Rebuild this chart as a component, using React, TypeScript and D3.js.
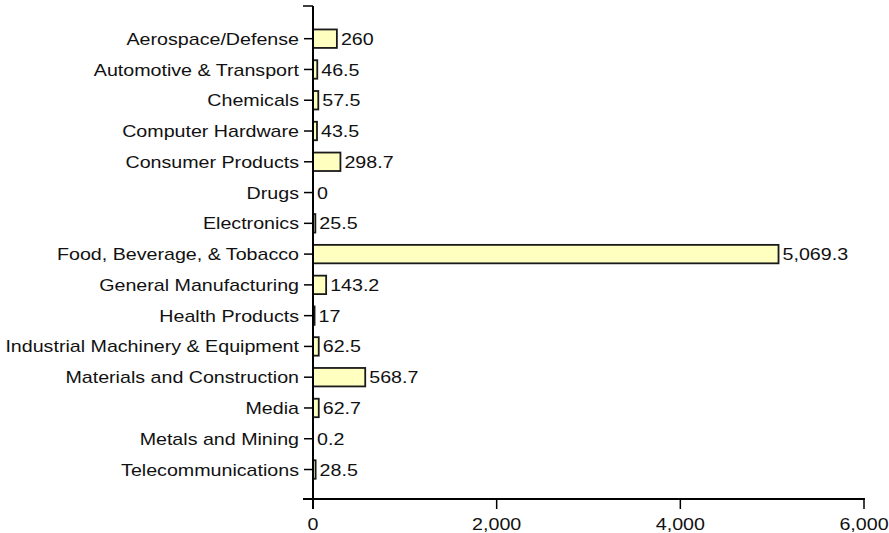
import React from "react";
import * as d3 from "d3";

const categories = [
  "Aerospace/Defense",
  "Automotive & Transport",
  "Chemicals",
  "Computer Hardware",
  "Consumer Products",
  "Drugs",
  "Electronics",
  "Food, Beverage, & Tobacco",
  "General Manufacturing",
  "Health Products",
  "Industrial Machinery & Equipment",
  "Materials and Construction",
  "Media",
  "Metals and Mining",
  "Telecommunications",
];
const values = [260, 46.5, 57.5, 43.5, 298.7, 0, 25.5, 5069.3, 143.2, 17, 62.5, 568.7, 62.7, 0.2, 28.5];
const valueLabels = ["260", "46.5", "57.5", "43.5", "298.7", "0", "25.5", "5,069.3", "143.2", "17", "62.5", "568.7", "62.7", "0.2", "28.5"];
const xTicks = [0, 2000, 4000, 6000];

const W = 889;
const H = 533;
const FONT = "'Liberation Sans', Arial, sans-serif";
const FS = 16.8;
const SX = 1.17;

function T({ x, y, anchor = "start", children }: { x: number; y: number; anchor?: string; children: React.ReactNode }) {
  return (
    <text
      transform={`translate(${x},${y}) scale(${SX},1)`}
      dy="0.36em"
      textAnchor={anchor}
      fill="#111"
    >
      {children}
    </text>
  );
}

export default function App() {
  const x = d3.scaleLinear().domain([0, 6000]).range([313, 864]);
  const y = d3
    .scaleBand<string>()
    .domain(categories)
    .range([23.3, 484.9])
    .paddingInner(0.4)
    .paddingOuter(0.2);
  const axisX = x(0);
  const axisTop = 6;
  const axisBottom = 499;
  const fmt = d3.format(",");

  return (
    <svg
      width={W}
      height={H}
      style={{ position: "absolute", left: 0, top: 0, background: "#fff" }}
      fontFamily={FONT}
      fontSize={FS}
    >
      <rect x={0} y={0} width={W} height={H} fill="#fff" />
      {categories.map((c, i) => {
        const v = values[i];
        const w = x(v) - x(0);
        const cy = y(c)! + y.bandwidth() / 2;
        return (
          <g key={c}>
            {v > 0 && (
              <rect
                x={x(0)}
                y={y(c)!}
                width={w}
                height={y.bandwidth()}
                fill="#ffffc0"
                stroke="#1a1a1a"
                strokeWidth={1.8}
              />
            )}
            <T x={x(v) + 4} y={cy}>
              {valueLabels[i]}
            </T>
          </g>
        );
      })}
      <line x1={axisX} x2={axisX} y1={axisTop} y2={axisBottom + 10} stroke="#000" strokeWidth={2} />
      <line x1={303} x2={axisX} y1={axisTop} y2={axisTop} stroke="#000" strokeWidth={1.5} />
      {categories.map((c) => {
        const cy = y(c)! + y.bandwidth() / 2;
        return (
          <g key={"t" + c}>
            <line x1={304} x2={axisX} y1={cy} y2={cy} stroke="#000" strokeWidth={1.5} />
            <T x={299} y={cy} anchor="end">
              {c}
            </T>
          </g>
        );
      })}
      <line x1={303} x2={x(6000) + 1} y1={axisBottom} y2={axisBottom} stroke="#000" strokeWidth={2} />
      {xTicks.map((t) => (
        <g key={"x" + t}>
          <line x1={x(t)} x2={x(t)} y1={axisBottom} y2={axisBottom + 10} stroke="#000" strokeWidth={1.5} />
          <T x={x(t)} y={524} anchor="middle">
            {fmt(t)}
          </T>
        </g>
      ))}
    </svg>
  );
}
